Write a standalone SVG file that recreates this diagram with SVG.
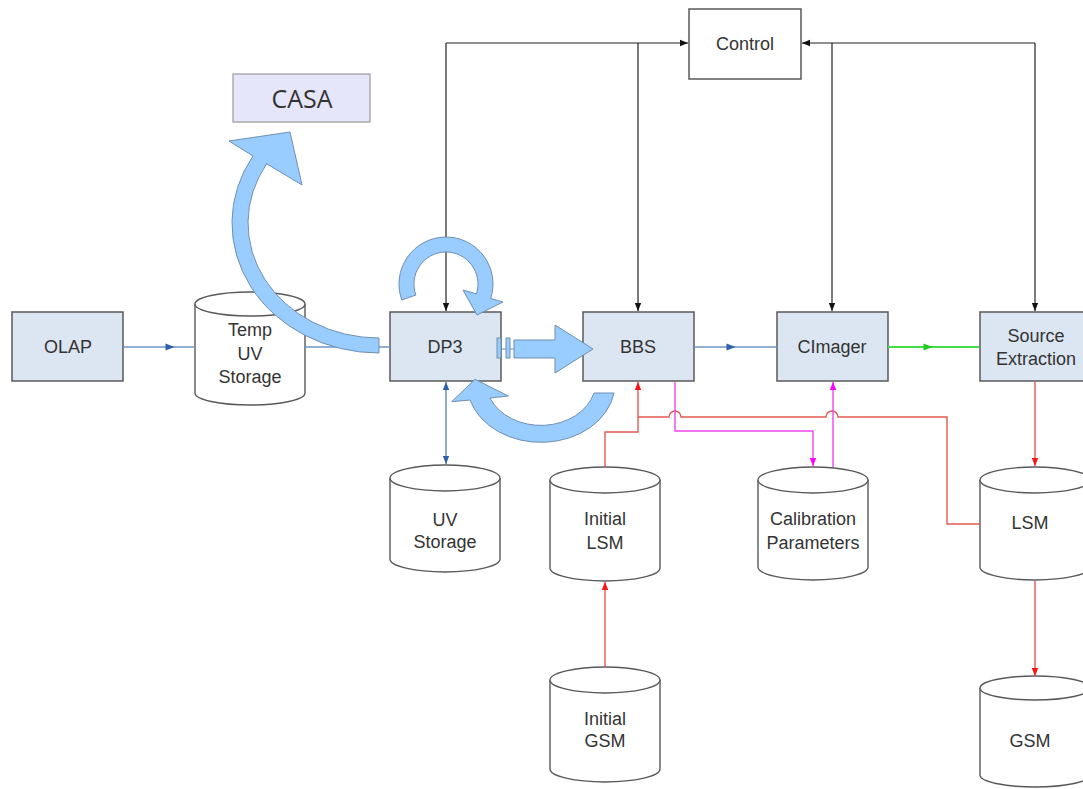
<svg xmlns="http://www.w3.org/2000/svg" width="1083" height="789" viewBox="0 0 1083 789">
<style>
.box{fill:#dce6f2;stroke:#595959;stroke-width:1.5}
.ctl{fill:#ffffff;stroke:#595959;stroke-width:1.5}
.cyl{fill:#ffffff;stroke:#595959;stroke-width:1.4}
.t{font-family:"Liberation Sans",Arial,sans-serif;font-size:18px;fill:#333;text-anchor:middle}
.casa{font-family:"Open Sans","DejaVu Sans",sans-serif;font-size:25px;fill:#333;text-anchor:middle}
.k{fill:none;stroke:#222;stroke-width:1.2}
.b{fill:none;stroke:#6f95c8;stroke-width:1.6}
.r{fill:none;stroke:#e45a52;stroke-width:1.4}
.m{fill:none;stroke:#ee44ee;stroke-width:1.4}
.g{fill:none;stroke:#44dd44;stroke-width:2}
.fa{fill:#99ccff;stroke:#6f8fb2;stroke-width:1}
</style>
<defs>
<marker id="ak" viewBox="0 0 10 10" refX="10" refY="5" markerWidth="9" markerHeight="8" markerUnits="userSpaceOnUse" orient="auto-start-reverse"><path d="M0,1 L10,5 L0,9 z" fill="#111"/></marker>
<marker id="ab" viewBox="0 0 10 10" refX="10" refY="5" markerWidth="9" markerHeight="8" markerUnits="userSpaceOnUse" orient="auto-start-reverse"><path d="M0,1 L10,5 L0,9 z" fill="#2f5fa8"/></marker>
<marker id="abm" viewBox="0 0 10 10" refX="5" refY="5" markerWidth="10" markerHeight="9" markerUnits="userSpaceOnUse" orient="auto"><path d="M0,1 L10,5 L0,9 z" fill="#2f5fa8"/></marker>
<marker id="ar" viewBox="0 0 10 10" refX="10" refY="5" markerWidth="9" markerHeight="8" markerUnits="userSpaceOnUse" orient="auto"><path d="M0,1 L10,5 L0,9 z" fill="#ff1111"/></marker>
<marker id="am" viewBox="0 0 10 10" refX="10" refY="5" markerWidth="9" markerHeight="8" markerUnits="userSpaceOnUse" orient="auto"><path d="M0,1 L10,5 L0,9 z" fill="#ff00ff"/></marker>
<marker id="agm" viewBox="0 0 10 10" refX="5" refY="5" markerWidth="11" markerHeight="9" markerUnits="userSpaceOnUse" orient="auto"><path d="M0,1 L10,5 L0,9 z" fill="#22cc22"/></marker>
</defs>

<g id="control"><rect class="ctl" x="689" y="9" width="112" height="70"/><text class="t" x="745" y="50">Control</text></g>
<g id="casa"><rect x="233" y="74" width="137" height="48" fill="#e6e6fa" stroke="#9a9a9a" stroke-width="1.2"/><text class="casa" x="302" y="108">CASA</text></g>
<g id="olap"><rect class="box" x="12" y="312" width="111" height="69"/><text class="t" x="68" y="353">OLAP</text></g>
<g id="dp3"><rect class="box" x="390" y="312" width="111" height="69"/><text class="t" x="445" y="353">DP3</text></g>
<g id="bbs"><rect class="box" x="583" y="312" width="111" height="69"/><text class="t" x="638" y="353">BBS</text></g>
<g id="cimager"><rect class="box" x="777" y="312" width="111" height="69"/><text class="t" x="832" y="353">CImager</text></g>
<g id="source-extraction"><rect class="box" x="980" y="312" width="111" height="69"/><text class="t" x="1036" y="342">Source</text><text class="t" x="1036" y="365">Extraction</text></g>

<g id="temp-uv-storage"><path class="cyl" d="M195,304 V393 A55,12 0 0 0 305,393 V304"/><ellipse class="cyl" cx="250" cy="304" rx="55" ry="12"/><text class="t" x="250" y="336">Temp</text><text class="t" x="250" y="360">UV</text><text class="t" x="250" y="383">Storage</text></g>
<g id="uv-storage"><path class="cyl" d="M390,478 V559 A55,13 0 0 0 500,559 V478"/><ellipse class="cyl" cx="445" cy="478" rx="55" ry="13"/><text class="t" x="445" y="526">UV</text><text class="t" x="445" y="548">Storage</text></g>
<g id="initial-lsm"><path class="cyl" d="M550,480 V568 A55,13 0 0 0 660,568 V480"/><ellipse class="cyl" cx="605" cy="480" rx="55" ry="13"/><text class="t" x="605" y="525">Initial</text><text class="t" x="605" y="549">LSM</text></g>
<g id="calibration-parameters"><path class="cyl" d="M758,480 V567 A55,13 0 0 0 868,567 V480"/><ellipse class="cyl" cx="813" cy="480" rx="55" ry="13"/><text class="t" x="813" y="525">Calibration</text><text class="t" x="813" y="549">Parameters</text></g>
<g id="lsm"><path class="cyl" d="M980,480 V567 A55,13 0 0 0 1090,567 V480"/><ellipse class="cyl" cx="1035" cy="480" rx="55" ry="13"/><text class="t" x="1030" y="529">LSM</text></g>
<g id="initial-gsm"><path class="cyl" d="M550,680 V769 A55,13 0 0 0 660,769 V680"/><ellipse class="cyl" cx="605" cy="680" rx="55" ry="13"/><text class="t" x="605" y="725">Initial</text><text class="t" x="605" y="747">GSM</text></g>
<g id="gsm"><path class="cyl" d="M980,688 V775 A55,12 0 0 0 1090,775 V688"/><ellipse class="cyl" cx="1035" cy="688" rx="55" ry="12"/><text class="t" x="1030" y="747">GSM</text></g>

<g id="connectors">
<path class="k" d="M446,43 V311" marker-end="url(#ak)"/>
<path class="k" d="M446,43 H688" marker-end="url(#ak)"/>
<path class="k" d="M638,43 V311" marker-end="url(#ak)"/>
<path class="k" d="M1035,43 H802" marker-end="url(#ak)"/>
<path class="k" d="M832,43 V311" marker-end="url(#ak)"/>
<path class="k" d="M1035,43 V311" marker-end="url(#ak)"/>
<path class="b" d="M123,347 L170,347 L195,347" marker-mid="url(#abm)"/>
<path class="b" d="M305,347 H390"/>
<path class="b" d="M694,347 L731,347 L777,347" marker-mid="url(#abm)"/>
<path class="g" d="M888,347 L928,347 L979,347" marker-mid="url(#agm)"/>
<path class="b" d="M446,464 V382" marker-start="url(#ab)" marker-end="url(#ab)"/>
<path class="r" d="M605,467 V432 H638 V382" marker-end="url(#ar)"/>
<path class="r" d="M638,417 H669 A6,6 0 0 1 681,417 H826 A6,6 0 0 1 838,417 H947 V524 H980"/>
<path class="r" d="M1035,381 V466" marker-end="url(#ar)"/>
<path class="r" d="M1035,581 V676" marker-end="url(#ar)"/>
<path class="r" d="M605,667 V582" marker-end="url(#ar)"/>
<path class="m" d="M675,382 V431 H813 V466" marker-end="url(#am)"/>
<path class="m" d="M833,467 V382" marker-end="url(#am)"/>
</g>

<g id="flow-arrows">
<path class="fa" d="M379,353 A147,130 0 0 1 253,156 L229,141 L290,132 L302,185 L266.7,163.8 A131,115 0 0 0 379,338 Z"/>
<path class="fa" d="M401.8,300 A47,47 0 1 1 490.7,298.5 L503,302 L477,315 L463,290 L476.4,293.9 A32,32 0 1 0 415.9,295 Z"/>
<path class="fa" d="M614,393 A74,59 0 0 1 470,400 L451.7,401.7 L475,379.3 L508.3,396 L490,398 A55,44 0 0 0 594,393 Z"/>
<path class="fa" d="M514,340 H555 V325 L593,349 L555,373 V358 H514 Z"/>
<rect class="fa" x="497" y="338" width="4" height="20"/>
<rect class="fa" x="506" y="338" width="4" height="20"/>
<path d="M501,349 H506 M510,349 H514" stroke="#6f8fb2" stroke-width="1"/>
</g>
</svg>
